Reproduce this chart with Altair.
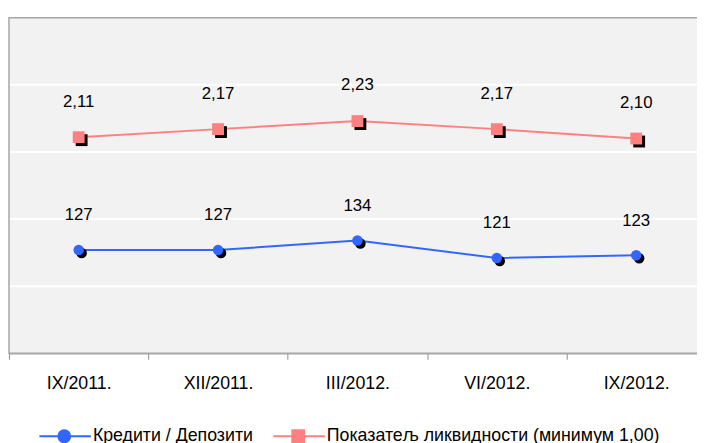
import altair as alt
import pandas as pd

# ---- data ----
periods = ["IX/2011.", "XII/2011.", "III/2012.", "VI/2012.", "IX/2012."]
loans_to_deposits = [127, 127, 134, 121, 123]
liquidity_ratio = [2.11, 2.17, 2.23, 2.17, 2.10]
series_names = ["Кредити / Депозити", "Показатељ ликвидности (минимум 1,00)"]
series_colors = ["#3366ff", "#ff8080"]
grid_values = [100, 150, 200, 250]  # major gridlines of the (hidden) primary axis

FONT = "Liberation Sans"
W, H = 697, 340

df_blue = pd.DataFrame({"period": periods, "value": loans_to_deposits, "series": series_names[0]})
df_red = pd.DataFrame({"period": periods, "value": liquidity_ratio, "series": series_names[1]})
df_legend = pd.DataFrame({"series": series_names})
df_grid = pd.DataFrame({"value": grid_values})

x_enc = alt.X(
    "period:N",
    sort=periods,
    scale=alt.Scale(type="band", domain=periods, range=[0, 706], paddingInner=0, paddingOuter=0),
    axis=alt.Axis(
        title=None, labelAngle=0, tickBand="extent", grid=False,
        labelFont=FONT, labelFontSize=18, labelColor="black",
        domainColor="#8c8c8c", tickColor="#8c8c8c", tickSize=6, labelPadding=16,
    ),
)

# legend symbols: a line with a marker in the middle (unit = symbol radius)
circle_path = "M-4.2,0L4.5,0M1,0A1,1,0,1,1,-1,0A1,1,0,1,1,1,0Z"
square_path = "M-4.2,0L4.5,0M-1,-1L1,-1L1,1L-1,1Z"

legend = alt.Legend(
    title=None, orient="none", legendX=47, legendY=415, direction="horizontal",
    symbolSize=144, labelOffset=20, columnPadding=15, padding=0,
    symbolOpacity=1, symbolStrokeWidth=2,
    labelFont=FONT, labelFontSize=18, labelColor="black", labelLimit=600,
)

legend_carrier = alt.Chart(df_legend).mark_point(filled=True, opacity=0, size=144).encode(
    x=alt.value(0),
    y=alt.value(0),
    color=alt.Color("series:N", scale=alt.Scale(domain=series_names, range=series_colors), legend=legend),
    stroke=alt.Stroke("series:N", scale=alt.Scale(domain=series_names, range=series_colors), legend=legend),
    shape=alt.Shape("series:N", scale=alt.Scale(domain=series_names, range=[circle_path, square_path]), legend=legend),
)

blue_y_scale = alt.Scale(domain=[50, 300], nice=False, zero=False)

# ---- plot background + gridlines on the primary scale ----
plot_bg = alt.Chart(df_legend.head(1)).mark_rect(color="#f2f2f2", stroke="#a6a6a6", strokeWidth=1.5).encode(
    x=alt.value(0), x2=alt.value(W + 20), y=alt.value(0), y2=alt.value(H),
)
grid = alt.Chart(df_grid).mark_rule(color="white", strokeWidth=2).encode(
    y=alt.Y("value:Q", scale=blue_y_scale, axis=None),
    x=alt.value(1),
    x2=alt.value(W),
)

# ---- blue series (primary, hidden axis) ----
blue_base = alt.Chart(df_blue).encode(
    x=x_enc,
    y=alt.Y("value:Q", scale=blue_y_scale, axis=None),
)
blue = alt.layer(
    grid,
    blue_base.mark_line(color=series_colors[0], strokeWidth=2),
    blue_base.mark_point(shape="circle", filled=True, size=113, color="black", opacity=1, xOffset=3, yOffset=3),
    blue_base.mark_point(shape="circle", filled=True, size=113, color=series_colors[0], opacity=1),
    blue_base.mark_text(font=FONT, fontSize=17, color="black", dy=-35, baseline="middle").encode(
        text=alt.Text("value:Q", format="d")
    ),
)

# ---- red series (secondary, hidden axis) ----
red_base = alt.Chart(df_red).transform_calculate(
    label="replace(format(datum.value, '.2f'), '.', ',')"
).encode(
    x=x_enc,
    y=alt.Y("value:Q", scale=alt.Scale(domain=[0.5, 3.0], nice=False, zero=False), axis=None),
)
red = alt.layer(
    red_base.mark_line(color=series_colors[1], strokeWidth=2),
    red_base.mark_point(shape="square", filled=True, size=144, color="black", opacity=1, xOffset=3, yOffset=3),
    red_base.mark_point(shape="square", filled=True, size=144, color=series_colors[1], opacity=1),
    red_base.mark_text(font=FONT, fontSize=17, color="black", dy=-36, baseline="middle").encode(
        text="label:N"
    ),
)

chart = (
    alt.layer(plot_bg, blue, red, legend_carrier)
    .resolve_scale(y="independent")
    .properties(
        width=W, height=H,
        autosize=alt.AutoSizeParams(type="none"),
        padding={"left": 1, "top": 7, "right": 0, "bottom": 88},
        background="white",
    )
    .configure_view(stroke=None)
    .configure(font=FONT)
)

chart.save("out.html", embed_options={"renderer": "svg", "actions": False})
